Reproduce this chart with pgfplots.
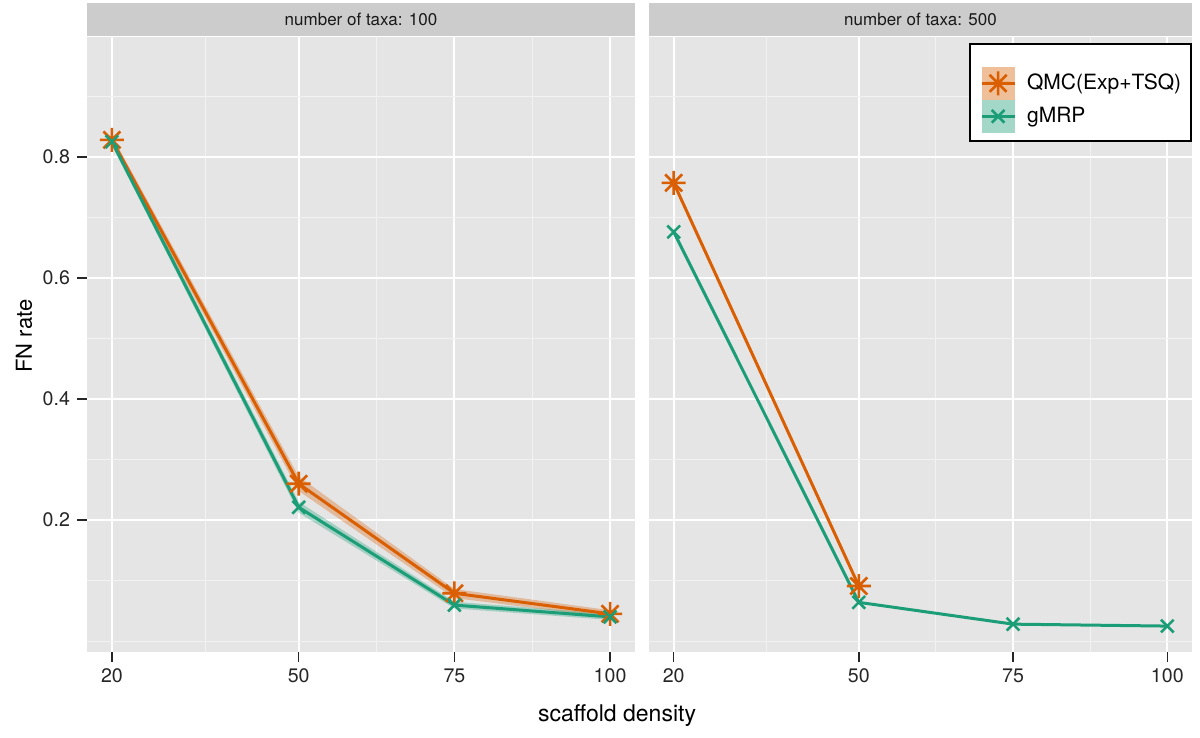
\documentclass[border=0pt]{standalone}
\usepackage{pgfplots}
\pgfplotsset{compat=1.18}
\usepackage{fontspec}
\setmainfont{TeX Gyre Heros}
\definecolor{qmc}{HTML}{D95F02}
\definecolor{gmrp}{HTML}{1B9E77}
\definecolor{panelbg}{HTML}{E5E5E5}
\definecolor{stripbg}{HTML}{CCCCCC}
\definecolor{minorgrid}{HTML}{F2F2F2}
\pgfdeclareplotmark{ast8}{%
  \pgfpathmoveto{\pgfqpoint{0pt}{\pgfplotmarksize}}\pgfpathlineto{\pgfqpoint{0pt}{-\pgfplotmarksize}}%
  \pgfpathmoveto{\pgfqpoint{\pgfplotmarksize}{0pt}}\pgfpathlineto{\pgfqpoint{-\pgfplotmarksize}{0pt}}%
  \pgfpathmoveto{\pgfqpoint{0.7071\pgfplotmarksize}{0.7071\pgfplotmarksize}}\pgfpathlineto{\pgfqpoint{-0.7071\pgfplotmarksize}{-0.7071\pgfplotmarksize}}%
  \pgfpathmoveto{\pgfqpoint{0.7071\pgfplotmarksize}{-0.7071\pgfplotmarksize}}\pgfpathlineto{\pgfqpoint{-0.7071\pgfplotmarksize}{0.7071\pgfplotmarksize}}%
  \pgfusepathqstroke}
\pgfplotsset{
  facet/.style={
    scale only axis, height=307.5pt,
    ymin=-0.018, ymax=0.998, xmin=16, xmax=104,
    xtick={20,50,75,100}, minor xtick={35,62.5,87.5},
    ytick={0.2,0.4,0.6,0.8}, minor ytick={0,0.1,0.3,0.5,0.7,0.9},
    grid=both,
    major grid style={white, line width=1pt},
    minor grid style={minorgrid, line width=0.5pt},
    axis background/.style={fill=panelbg},
    axis line style={draw=none},
    tick pos=left,
    tick align=outside, major tick length=5pt, minor tick length=0pt,
    tick style={black!85, line width=0.7pt},
    ticklabel style={font=\fontsize{9.8}{11}\selectfont, text=black!85},
    /pgf/number format/assume math mode=true,
    /pgf/number format/fixed,
    yticklabel style={/pgf/number format/precision=1, /pgf/number format/fixed zerofill},
  },
  qline/.style={qmc, line width=1.5pt, no marks},
  gline/.style={gmrp, line width=1.5pt, no marks},
  qmark/.style={qmc, only marks, mark=ast8, mark size=6pt, line width=1.3pt},
  gmark/.style={gmrp, only marks, mark=x, mark size=4.5pt, line width=1.3pt},
}
\begin{document}
\begin{tikzpicture}
\useasboundingbox (0,0) rectangle (600pt,369pt);
% panel 1
\begin{axis}[facet, anchor=south west, at={(43.5pt,43pt)}, width=274pt]
\addplot[fill=qmc, fill opacity=0.32, draw=none, forget plot] coordinates {(20,0.835)(50,0.272)(75,0.086)(100,0.051)(100,0.039)(75,0.071)(50,0.248)(20,0.821)} -- cycle;
\addplot[fill=gmrp, fill opacity=0.32, draw=none, forget plot] coordinates {(20,0.831)(50,0.230)(75,0.065)(100,0.045)(100,0.035)(75,0.054)(50,0.212)(20,0.819)} -- cycle;
\addplot[qline, forget plot] coordinates {(20,0.828)(50,0.260)(75,0.079)(100,0.045)};
\addplot[gline, forget plot] coordinates {(20,0.825)(50,0.221)(75,0.0595)(100,0.040)};
\addplot[qmark, forget plot] coordinates {(20,0.828)(50,0.260)(75,0.079)(100,0.045)};
\addplot[gmark, forget plot] coordinates {(20,0.825)(50,0.221)(75,0.0595)(100,0.040)};
\end{axis}
% panel 2
\begin{axis}[facet, anchor=south west, at={(324.5pt,43pt)}, width=271.5pt,
  yticklabels={}, y tick style={draw=none},
  legend style={at={(1,1)}, anchor=north east, yshift=-3pt, draw=black, line width=0.8pt,
    inner xsep=5pt, inner ysep=4pt, row sep=0pt, fill=white,
    font=\fontsize{10.5}{12}\selectfont,
    nodes={inner sep=0pt, anchor=west}},
  legend cell align=left]
\addplot[qline, forget plot] coordinates {(20,0.757)(50,0.091)};
\addplot[gline, forget plot] coordinates {(20,0.676)(50,0.064)(75,0.028)(100,0.0248)};
\addplot[qmark, forget plot] coordinates {(20,0.757)(50,0.091)};
\addplot[gmark, forget plot] coordinates {(20,0.676)(50,0.064)(75,0.028)(100,0.0248)};
\addlegendimage{empty legend}
\addlegendentry{\rule{0pt}{6pt}}
\addlegendimage{legend image code/.code={
  \fill[qmc, draw=none, fill opacity=0.4] (0pt,-8.25pt) rectangle (16.5pt,8.25pt);
  \draw[qmc, line width=1.5pt] (0pt,0pt) -- (16.5pt,0pt);
  \draw[qmc, line width=1.3pt] plot[only marks, mark=ast8, mark size=6pt] coordinates {(8.25pt,0pt)};
}}
\addlegendentry{\hspace{5.5pt}QMC(Exp+TSQ)}
\addlegendimage{legend image code/.code={
  \fill[gmrp, draw=none, fill opacity=0.4] (0pt,-8.25pt) rectangle (16.5pt,8.25pt);
  \draw[gmrp, line width=1.5pt] (0pt,0pt) -- (16.5pt,0pt);
  \draw[gmrp, line width=1.3pt] plot[only marks, mark=x, mark size=4.5pt] coordinates {(8.25pt,0pt)};
}}
\addlegendentry{\hspace{5.5pt}gMRP}
\end{axis}
% strips
\fill[stripbg] (43.5pt,351pt) rectangle (317.5pt,367.5pt);
\fill[stripbg] (324.5pt,351pt) rectangle (596pt,367.5pt);
\node[font=\fontsize{8.5}{10}\selectfont, text=black!90] at (180.5pt,359.25pt) {number of taxa: 100};
\node[font=\fontsize{8.5}{10}\selectfont, text=black!90] at (460.25pt,359.25pt) {number of taxa: 500};
% axis titles
\node[font=\fontsize{11.5}{13}\selectfont, anchor=base] at (308.5pt,8pt) {scaffold density};
\node[font=\fontsize{11}{13}\selectfont, rotate=90, anchor=base] at (16pt,201pt) {FN rate};
\end{tikzpicture}
\end{document}
